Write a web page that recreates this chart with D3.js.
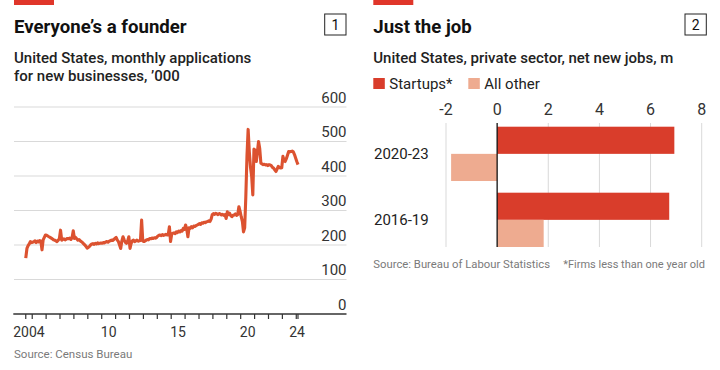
<!DOCTYPE html>
<html>
<head>
<meta charset="utf-8">
<script src="https://cdn.jsdelivr.net/npm/d3@7"></script>
<style>
  body { margin: 0; background: #fff; }
  svg text { font-family: Roboto, "Liberation Sans", sans-serif; }
</style>
</head>
<body>
<div id="chart"></div>
<script>
// ---- chart 1: monthly business applications, '000, starting Jul 2004
var firstMonth = new Date(2004, 6, 15);
var applications = [
  // 2004 (Jul-Dec)
  162, 190, 198, 203, 210, 207,
  // 2005
  208, 210, 212, 207, 211, 209, 213, 211, 186, 215, 222, 229,
  // 2006
  228, 226, 224, 222, 220, 218, 215, 214, 212, 210, 214, 218,
  // 2007
  243, 214, 216, 218, 215, 217, 219, 218, 220, 216, 222, 241,
  // 2008
  219, 222, 218, 214, 216, 212, 210, 207, 203, 200, 196, 191,
  // 2009
  193, 196, 200, 203, 204, 202, 205, 203, 206, 204, 205, 206,
  // 2010
  205, 207, 206, 209, 210, 208, 211, 212, 214, 213, 216, 219,
  // 2011
  222, 214, 210, 200, 190, 212, 224, 215, 208, 205, 212, 224,
  // 2012
  190, 205, 212, 214, 210, 212, 214, 211, 212, 213, 272, 212,
  // 2013
  210, 212, 214, 216, 215, 219, 218, 220, 219, 221, 220, 222,
  // 2014
  226, 228, 229, 227, 230, 228, 229, 231, 229, 230, 253, 210,
  // 2015
  232, 234, 235, 233, 238, 236, 240, 238, 242, 240, 248, 245,
  // 2016
  258, 245, 224, 250, 248, 253, 250, 255, 254, 256, 258, 260,
  // 2017
  262, 260, 264, 263, 266, 265, 267, 268, 270, 268, 275, 288,
  // 2018
  291, 289, 292, 290, 288, 291, 290, 287, 289, 286, 288, 277,
  // 2019
  296, 288, 292, 285, 282, 286, 287, 290, 286, 288, 311, 298,
  // 2020
  282, 268, 238, 250, 340, 460, 535, 470, 425, 400, 345, 478,
  // 2021
  475, 442, 470, 500, 480, 437, 435, 433, 434, 432, 433, 430,
  // 2022
  433, 432, 430, 425, 423, 418, 413, 420, 428, 425, 423, 424,
  // 2023
  457, 445, 442, 450, 460, 471, 470, 471, 472, 470, 462, 452,
  // 2024 (Jan-Feb)
  442, 433
];
var yTicks1 = [0, 100, 200, 300, 400, 500, 600];
var yearLabels = [2004, 2010, 2015, 2020, 2024];

// ---- chart 2: private sector net new jobs, m
var periods = ["2020-23", "2016-19"];
var startups = [6.93, 6.73];
var allOther = [-1.8, 1.82];
var xTicks2 = [-2, 0, 2, 4, 6, 8];
var seriesNames = ["Startups*", "All other"];
var seriesColors = ["#d93d2b", "#eeab90"];

var red = "#e0362a";
var lineColor = "#dc5230";
var gridColor = "#d9d9d9";

var svg = d3.select("#chart").append("svg")
    .attr("width", 720)
    .attr("height", 370);

// headers (red tab, title, numbered box)
var headers = [
  {x: 14, title: "Everyone\u2019s a founder", n: "1", box: 324.7,
   sub: ["United States, monthly applications", "for new businesses, \u2019000"]},
  {x: 373.3, title: "Just the job", n: "2", box: 685,
   sub: ["United States, private sector, net new jobs, m"]}
];
headers.forEach(function(h) {
  svg.append("rect").attr("x", h.x).attr("y", 0).attr("width", 40).attr("height", 5).attr("fill", red);
  svg.append("text").attr("x", h.x).attr("y", 33.3)
      .style("font-size", "18.6px").style("font-weight", 700).attr("fill", "#111")
      .text(h.title);
  svg.append("rect").attr("x", h.box).attr("y", 14).attr("width", 21.3).attr("height", 21)
      .attr("fill", "none").attr("stroke", "#222").attr("stroke-width", 1);
  svg.append("text").attr("x", h.box + 10.7).attr("y", 29.8).attr("text-anchor", "middle")
      .style("font-size", "14px").attr("fill", "#111").text(h.n);
  h.sub.forEach(function(s, i) {
    svg.append("text").attr("x", h.x).attr("y", 63 + i * 17.5)
        .style("font-size", "15px").style("font-weight", 500).attr("fill", "#222")
        .text(s);
  });
});

// ================= chart 1 =================
var data1 = applications.map(function(v, i) {
  return {date: new Date(2004, 6 + i, 15), value: v};
});
var lastMonth = data1[data1.length - 1].date;

var x1 = d3.scaleTime()
    .domain([new Date(2004, 0, 1), new Date(2025, 0, 1)])
    .range([18.3, 310.2]);
var y1 = d3.scaleLinear().domain([0, 600]).range([314, 107]);

var g1 = svg.append("g");

g1.selectAll("line.grid")
  .data(yTicks1.filter(function(t) { return t > 0; }))
  .enter().append("line")
    .attr("x1", 14).attr("x2", 346.5)
    .attr("y1", function(d) { return y1(d); })
    .attr("y2", function(d) { return y1(d); })
    .attr("stroke", gridColor).attr("stroke-width", 1);

g1.selectAll("text.ylab")
  .data(yTicks1)
  .enter().append("text")
    .attr("x", 346.5)
    .attr("y", function(d) { return y1(d) - 4.5; })
    .attr("text-anchor", "end")
    .style("font-size", "15px").attr("fill", "#333")
    .text(function(d) { return d; });

// x axis baseline and ticks
g1.append("line")
  .attr("x1", 13.3).attr("x2", 346.5)
  .attr("y1", y1(0)).attr("y2", y1(0))
  .attr("stroke", "#333").attr("stroke-width", 1.3);

var tickDates = [firstMonth].concat(d3.timeYear.range(new Date(2005, 0, 1), new Date(2024, 0, 2)), [lastMonth]);
g1.selectAll("line.tick")
  .data(tickDates)
  .enter().append("line")
    .attr("x1", function(d) { return x1(d); })
    .attr("x2", function(d) { return x1(d); })
    .attr("y1", y1(0)).attr("y2", y1(0) + 5)
    .attr("stroke", "#333").attr("stroke-width", 1.2);

g1.selectAll("text.xlab")
  .data(yearLabels)
  .enter().append("text")
    .attr("x", function(yr) {
      var lo = Math.max(x1(new Date(yr, 0, 1)), x1(firstMonth));
      var hi = Math.min(x1(new Date(yr + 1, 0, 1)), x1(lastMonth));
      return (lo + hi) / 2;
    })
    .attr("y", 336.7)
    .attr("text-anchor", "middle")
    .style("font-size", "14px").attr("fill", "#333")
    .text(function(yr) { return yr === 2004 ? "2004" : String(yr).slice(2); });

var line = d3.line()
    .x(function(d) { return x1(d.date); })
    .y(function(d) { return y1(d.value); });

g1.append("path")
  .datum(data1)
  .attr("d", line)
  .attr("fill", "none")
  .attr("stroke", lineColor)
  .attr("stroke-width", 3.1)
  .attr("stroke-linejoin", "round");

svg.append("text").attr("x", 14).attr("y", 358.3)
  .style("font-size", "11.5px").attr("fill", "#7a7a7a")
  .text("Source: Census Bureau");

// ================= chart 2 =================
var x2 = d3.scaleLinear().domain([-2, 8]).range([446, 701.7]);
var y2 = d3.scaleBand().domain(periods).range([126.7, 247]).paddingInner(0.177);
var ySub = d3.scaleBand().domain([0, 1]).range([0, y2.bandwidth()]);

var g2 = svg.append("g");

// legend
seriesNames.forEach(function(name, i) {
  var lx = 373.3 + i * 95;
  g2.append("rect").attr("x", lx).attr("y", 78).attr("width", 11.5).attr("height", 11)
    .attr("fill", seriesColors[i]);
  g2.append("text").attr("x", lx + 16).attr("y", 89)
    .style("font-size", "15px").attr("fill", "#222").text(name);
});

g2.selectAll("line.grid")
  .data(xTicks2.filter(function(t) { return t !== 0; }))
  .enter().append("line")
    .attr("x1", function(d) { return x2(d); })
    .attr("x2", function(d) { return x2(d); })
    .attr("y1", 123).attr("y2", 247)
    .attr("stroke", gridColor).attr("stroke-width", 1);

g2.selectAll("text.xlab")
  .data(xTicks2)
  .enter().append("text")
    .attr("x", function(d) { return x2(d); })
    .attr("y", 115)
    .attr("text-anchor", "middle")
    .style("font-size", "16px").attr("fill", "#333")
    .text(function(d) { return String(d); });

var bars = [];
periods.forEach(function(p, i) {
  bars.push({period: p, k: 0, value: startups[i]});
  bars.push({period: p, k: 1, value: allOther[i]});
});

g2.selectAll("rect.bar")
  .data(bars)
  .enter().append("rect")
    .attr("x", function(d) { return x2(Math.min(0, d.value)); })
    .attr("width", function(d) { return Math.abs(x2(d.value) - x2(0)); })
    .attr("y", function(d) { return y2(d.period) + ySub(d.k); })
    .attr("height", ySub.bandwidth())
    .attr("fill", function(d) { return seriesColors[d.k]; });

g2.append("line")
  .attr("x1", x2(0)).attr("x2", x2(0))
  .attr("y1", 123).attr("y2", 247)
  .attr("stroke", "#111").attr("stroke-width", 1.3);

g2.selectAll("text.cat")
  .data(periods)
  .enter().append("text")
    .attr("x", 374)
    .attr("y", function(d) { return y2(d) + y2.bandwidth() / 2 + 5.5; })
    .style("font-size", "15px").attr("fill", "#222")
    .text(function(d) { return d; });

g2.append("text").attr("x", 373.3).attr("y", 268.3)
  .style("font-size", "11.3px").attr("fill", "#7a7a7a")
  .text("Source: Bureau of Labour Statistics");
g2.append("text").attr("x", 705).attr("y", 268.3).attr("text-anchor", "end")
  .style("font-size", "11px").attr("fill", "#7a7a7a")
  .text("*Firms less than one year old");
</script>
</body>
</html>
